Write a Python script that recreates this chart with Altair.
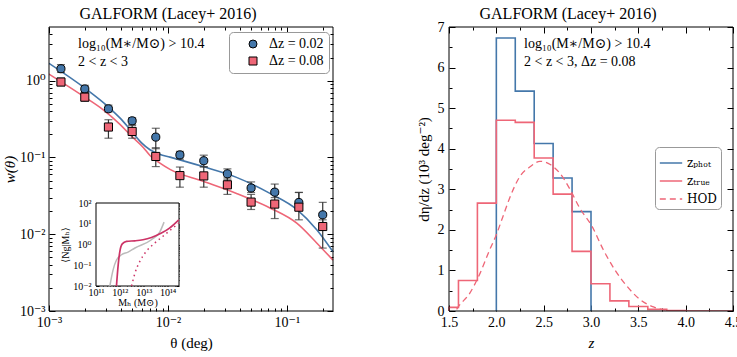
import math

import altair as alt
import pandas as pd

FONT = "Liberation Serif, DejaVu Serif, serif"
SUBFONT = "DejaVu Serif, Liberation Serif, serif"
BLUE = "#4477AA"
PINK = "#EE6677"
HOD_PINK = "#CC3366"
GREY = "#BBBBBB"
INK = "#333333"

# two square panels side by side in one view
PW = 284            # panel width and height
GAP = 116           # gap between panels
VW = 2 * PW + GAP   # view width
VH = PW
RX0 = PW + GAP      # left edge of the right panel

# ---------------- w(theta), log10(M*/Msun) > 10.4, 2 < z < 3 ----------------
theta_deg = [0.00126, 0.002, 0.00316, 0.005, 0.0079, 0.0126,
             0.02, 0.0316, 0.05, 0.079, 0.126, 0.2]
w_dz002 = [1.43, 0.78, 0.43, 0.30, 0.184, 0.108, 0.0906, 0.0612, 0.040, 0.0353, 0.0259, 0.0179]
w_dz002_lo = [1.28, 0.70, 0.39, 0.27, 0.13, 0.095, 0.076, 0.051, 0.035, 0.030, 0.021, 0.012]
w_dz002_hi = [1.62, 0.87, 0.48, 0.33, 0.24, 0.12, 0.107, 0.071, 0.048, 0.045, 0.035, 0.026]
w_dz008 = [0.96, 0.61, 0.249, 0.218, 0.103, 0.058, 0.0575, 0.044, 0.0262, 0.0247, 0.0225, 0.0126]
w_dz008_lo = [0.86, 0.54, 0.178, 0.178, 0.076, 0.041, 0.041, 0.033, 0.021, 0.016, 0.0154, 0.0066]
w_dz008_hi = [1.08, 0.70, 0.31, 0.26, 0.134, 0.075, 0.075, 0.054, 0.033, 0.033, 0.035, 0.0154]
series_labels = ["Δz = 0.02", "Δz = 0.08"]

# HOD model curves
model_theta_dz002 = [0.001, 0.002, 0.00313, 0.0040, 0.00496, 0.006, 0.00706, 0.0085,
                     0.0104, 0.0197, 0.0377, 0.072, 0.121, 0.178, 0.244]
model_w_dz002 = [1.68, 0.80, 0.46, 0.32, 0.218, 0.155, 0.126, 0.11,
                 0.101, 0.076, 0.055, 0.034, 0.021, 0.0114, 0.0059]
model_theta_dz008 = [0.001, 0.002, 0.00284, 0.00395, 0.00496, 0.0062, 0.00706, 0.0085,
                     0.0104, 0.0197, 0.0377, 0.072, 0.121, 0.178, 0.244]
model_w_dz008 = [1.22, 0.61, 0.42, 0.27, 0.188, 0.135, 0.106, 0.085,
                 0.070, 0.049, 0.034, 0.022, 0.0139, 0.0077, 0.0046]

# inset: mean occupation <N_g | M_h>
mh_model = [3.8e11, 5.2e11, 7.2e11, 1.17e12, 2.2e12, 4.3e12, 2.1e13, 4.7e13, 7.1e13]
ng_model = [0.01, 0.06, 0.18, 0.32, 0.43, 0.68, 1.7, 4.0, 12.0]
mh_hod = [7.2e11, 8.5e11, 1.0e12, 1.26e12, 1.9e12, 4.3e12, 9.3e12, 2.1e13, 5.5e13, 1.2e14, 2.95e14]
ng_hod = [0.01, 0.105, 0.47, 1.07, 1.41, 1.51, 1.70, 2.19, 3.55, 6.2, 15.5]
mh_hod_sat = [3.1e12, 4.3e12, 6.8e12, 1.29e13, 2.9e13, 7.6e13, 2.95e14]
ng_hod_sat = [0.01, 0.042, 0.15, 0.47, 1.17, 2.95, 10.7]

# ---------------- dn/dz ----------------
zphot_edges = [2.0, 2.2, 2.4, 2.6, 2.8, 3.0]
zphot_dndz = [6.73, 5.42, 4.13, 3.28, 2.45]
ztrue_edges = [1.5, 1.6, 1.8, 2.0, 2.2, 2.4, 2.6, 2.8, 3.0, 3.2, 3.4, 3.6, 3.8, 4.0, 4.5]
ztrue_dndz = [0.09, 0.75, 2.66, 4.70, 4.65, 3.77, 2.88, 1.47, 0.67, 0.25, 0.11, 0.04, 0.01, 0.0]
z_hod = [1.58, 1.60, 1.72, 1.83, 1.93, 2.0, 2.07, 2.14, 2.25, 2.36, 2.46, 2.57, 2.67,
         2.78, 2.88, 3.01, 3.13, 3.25, 3.38, 3.52, 3.66, 3.84]
dndz_hod = [0.04, 0.11, 0.44, 0.94, 1.51, 1.88, 2.33, 2.78, 3.32, 3.56, 3.69, 3.61, 3.40,
            2.99, 2.54, 2.09, 1.51, 1.02, 0.61, 0.28, 0.10, 0.0]
src_labels = ["zₚₕₒₜ", "zₜᵣᵤₑ", "HOD"]

# axis tick values
theta_major = [1e-3, 1e-2, 1e-1]
w_major = [1e-3, 1e-2, 1e-1, 1.0]
mh_major = [1e11, 1e12, 1e13, 1e14]
ng_major = [1e-2, 1e-1, 1.0, 1e1, 1e2]
z_major = [1.5, 2.0, 2.5, 3.0, 3.5, 4.0, 4.5]
z_minor = [1.75, 2.25, 2.75, 3.25, 3.75, 4.25]
dndz_major = [0, 1, 2, 3, 4, 5, 6, 7]
dndz_minor = [0.5, 1.5, 2.5, 3.5, 4.5, 5.5, 6.5]

THETA_DOM = [1e-3, 0.244]
W_DOM = [1e-3, 5.0]
MH_DOM = [1e11, 3e14]
NG_DOM = [1e-2, 1e2]
Z_DOM = [1.5, 4.5]
N_DOM = [0, 7]


def log_minor(lo, hi):
    out = []
    dec = 10.0 ** math.floor(math.log10(lo))
    while dec < hi:
        for m in range(2, 10):
            v = m * dec
            if lo < v < hi:
                out.append(v)
        dec *= 10
    return out


SUP = str.maketrans("-0123456789", "⁻⁰¹²³⁴⁵⁶⁷⁸⁹")


def pow10_expr(values):
    expr = "''"
    for v in values:
        k = round(math.log10(v))
        expr = f"round(log(datum.value) / LN10) == {k} ? '10{str(k).translate(SUP)}' : " + expr
    return expr


def axis(orient, values, length, inset=0, labels=False, **kw):
    """Inward ticks: the axis line sits `length` px inside the panel edge."""
    return alt.Axis(orient=orient, values=values, tickSize=length, offset=-(inset + length),
                    labels=labels, domain=False, grid=False, tickColor="black",
                    tickWidth=1, **kw)


def frame_layer(xdom, ydom, xsc, ysc):
    box = pd.DataFrame({"x0": [xdom[0]], "x1": [xdom[1]], "y0": [ydom[0]], "y1": [ydom[1]]})
    return alt.Chart(box).mark_rect(filled=False, color="black", strokeWidth=1).encode(
        x=alt.X("x0:Q", scale=xsc, axis=None), x2="x1:Q",
        y=alt.Y("y0:Q", scale=ysc, axis=None), y2="y1:Q",
    )


def text_layer(lines, x, y, size=14, align="left", baseline="top"):
    return alt.Chart(pd.DataFrame({"k": [0]})).mark_text(
        align=align, baseline=baseline, font=FONT, fontSize=size, lineHeight=18, color="black"
    ).encode(x=alt.value(x), y=alt.value(y), text=alt.value(lines))


# ---------------- left panel ----------------
pts = pd.DataFrame({
    "theta": theta_deg * 2,
    "w": w_dz002 + w_dz008,
    "lo": w_dz002_lo + w_dz008_lo,
    "hi": w_dz002_hi + w_dz008_hi,
    "series": [series_labels[0]] * len(theta_deg) + [series_labels[1]] * len(theta_deg),
})
pts["k"] = range(len(pts))
caps = pts.melt(id_vars=["theta", "series"], value_vars=["lo", "hi"], value_name="wcap")
model_a = pd.DataFrame({"theta": model_theta_dz002, "w": model_w_dz002})
model_b = pd.DataFrame({"theta": model_theta_dz008, "w": model_w_dz008})

xs = alt.Scale(type="log", domain=THETA_DOM, nice=False, range=[0, PW])
ys = alt.Scale(type="log", domain=W_DOM, nice=False, range=[VH, 0])
theta_minor = log_minor(*THETA_DOM)
w_minor = log_minor(*W_DOM)

line_a = alt.Chart(model_a).mark_line(clip=True, strokeWidth=1.6, interpolate="monotone", color=BLUE).encode(
    x=alt.X("theta:Q", scale=xs,
            axis=axis("bottom", theta_major, 6, labels=True, labelExpr=pow10_expr(theta_major),
                      labelPadding=4, title="θ (deg)", titlePadding=6)),
    y=alt.Y("w:Q", scale=ys,
            axis=axis("left", w_major, 6, labels=True, labelExpr=pow10_expr(w_major),
                      labelPadding=4, title="w(θ)", titleFontStyle="italic", titlePadding=2)),
)
line_b = alt.Chart(model_b).mark_line(clip=True, strokeWidth=1.6, interpolate="monotone", color=PINK).encode(
    x=alt.X("theta:Q", scale=xs, axis=None),
    y=alt.Y("w:Q", scale=ys, axis=None),
)

bars = alt.Chart(pts).mark_rule(clip=True, color=INK, strokeWidth=1.2).encode(
    x=alt.X("theta:Q", scale=xs, axis=axis("bottom", theta_minor, 3, title=None)),
    y=alt.Y("lo:Q", scale=ys, axis=axis("left", w_minor, 3, title=None)),
    y2="hi:Q",
)

capmarks = alt.Chart(caps).mark_tick(clip=True, orient="horizontal", color=INK, size=8, thickness=1.2).encode(
    x=alt.X("theta:Q", scale=xs, axis=axis("top", theta_major, 6, title=None)),
    y=alt.Y("wcap:Q", scale=ys, axis=axis("right", w_major, 6, inset=VW - PW, title=None)),
)

legend_left = alt.Legend(title=None, orient="none", legendX=180, legendY=5, labelFont=FONT,
                         labelFontSize=14, labelColor="black", symbolSize=64, strokeColor="#999999",
                         fillColor="white", cornerRadius=4, padding=5, rowPadding=3,
                         symbolOffset=12, labelOffset=9,
                         symbolStrokeColor="black", symbolStrokeWidth=1)
markers = alt.Chart(pts).mark_point(clip=True, filled=True, size=66, stroke="black",
                                    strokeWidth=1, opacity=1).encode(
    x=alt.X("theta:Q", scale=xs, axis=axis("top", theta_minor, 3, title=None)),
    y=alt.Y("w:Q", scale=ys, axis=axis("right", w_minor, 3, inset=VW - PW, title=None)),
    color=alt.Color("series:N", scale=alt.Scale(domain=series_labels, range=[BLUE, PINK]), legend=legend_left),
    shape=alt.Shape("series:N", scale=alt.Scale(domain=series_labels, range=["circle", "square"]),
                    legend=legend_left),
    order=alt.Order("k:Q"),
)

left = alt.layer(line_a, line_b, bars, capmarks, markers, frame_layer(THETA_DOM, W_DOM, xs, ys)).resolve_axis(
    x="independent", y="independent")

# ---------------- inset ----------------
IX0, IX1 = 47, 130
IY0, IY1 = 259, 176
mxs = alt.Scale(type="log", domain=MH_DOM, nice=False, range=[IX0, IX1])
mys = alt.Scale(type="log", domain=NG_DOM, nice=False, range=[IY0, IY1])
mh_minor = log_minor(*MH_DOM)
ng_minor = log_minor(*NG_DOM)
small = dict(labelFontSize=10, titleFontSize=10)

inset_box = pd.DataFrame({"m0": [MH_DOM[0]], "m1": [MH_DOM[1]], "n0": [NG_DOM[0]], "n1": [NG_DOM[1]]})
inset_frame = alt.Chart(inset_box).mark_rect(fill="white", stroke="black", strokeWidth=1).encode(
    x=alt.X("m0:Q", scale=mxs,
            axis=axis("bottom", mh_major, 3, inset=VH - IY0, labels=True, labelExpr=pow10_expr(mh_major),
                      labelPadding=1, title="Mₕ (M⊙)", titlePadding=0, **small)),
    x2="m1:Q",
    y=alt.Y("n0:Q", scale=mys,
            axis=axis("left", ng_major, 3, inset=IX0, labels=True, labelExpr=pow10_expr(ng_major),
                      labelPadding=5, title="⟨Ng|Mₕ⟩", titlePadding=2, **small)),
    y2="n1:Q",
)
inset_model = alt.Chart(pd.DataFrame({"mh": mh_model, "ng": ng_model})).mark_line(
    color=GREY, strokeWidth=1.5, interpolate="monotone").encode(
    x=alt.X("mh:Q", scale=mxs, axis=axis("top", mh_major, 3, inset=IY1, title=None)),
    y=alt.Y("ng:Q", scale=mys, axis=axis("right", ng_major, 3, inset=VW - IX1, title=None)),
)
inset_hod = alt.Chart(pd.DataFrame({"mh": mh_hod, "ng": ng_hod})).mark_line(
    color=HOD_PINK, strokeWidth=1.7, interpolate="monotone").encode(
    x=alt.X("mh:Q", scale=mxs, axis=axis("bottom", mh_minor, 1.5, inset=VH - IY0, title=None)),
    y=alt.Y("ng:Q", scale=mys, axis=axis("left", ng_minor, 1.5, inset=IX0, title=None)),
)
inset_sat = alt.Chart(pd.DataFrame({"mh": mh_hod_sat, "ng": ng_hod_sat})).mark_line(
    color=HOD_PINK, strokeWidth=1.5, strokeDash=[1.5, 3.5], interpolate="monotone").encode(
    x=alt.X("mh:Q", scale=mxs, axis=axis("top", mh_minor, 1.5, inset=IY1, title=None)),
    y=alt.Y("ng:Q", scale=mys, axis=axis("right", ng_minor, 1.5, inset=VW - IX1, title=None)),
)
inset = alt.layer(inset_frame, inset_model, inset_hod, inset_sat).resolve_axis(
    x="independent", y="independent")

# ---------------- right panel ----------------
def steps(edges, heights, label):
    zx, ny = [edges[0]], [0.0]
    for e, h in zip(edges[:-1], heights):
        zx.append(e)
        ny.append(h)
    zx += [edges[-1], edges[-1]]
    ny += [heights[-1], 0.0]
    return pd.DataFrame({"z": zx, "n": ny, "src": label, "i": range(len(zx))})


phot = steps(zphot_edges, zphot_dndz, src_labels[0])
true = steps(ztrue_edges, ztrue_dndz, src_labels[1])
hod = pd.DataFrame({"z": z_hod, "n": dndz_hod, "src": src_labels[2]})

zs = alt.Scale(domain=Z_DOM, nice=False, zero=False, range=[RX0, VW])
ns = alt.Scale(domain=N_DOM, nice=False, range=[VH, 0])

legend_right = alt.Legend(title=None, orient="none", legendX=RX0 + 206, legendY=120, labelFont=SUBFONT,
                          labelFontSize=12, labelColor="black", symbolSize=500, symbolStrokeWidth=1.5,
                          strokeColor="#999999", fillColor="white", cornerRadius=4, padding=4,
                          rowPadding=0, symbolType="stroke")
col = alt.Color("src:N", scale=alt.Scale(domain=src_labels, range=[BLUE, PINK, PINK]), legend=legend_right)
dash = alt.StrokeDash("src:N", scale=alt.Scale(domain=src_labels, range=[[1, 0], [1, 0], [6, 4]]),
                      legend=legend_right)

h_phot = alt.Chart(phot).mark_line(clip=True, interpolate="step-after", strokeWidth=1.6).encode(
    x=alt.X("z:Q", scale=zs, axis=axis("bottom", z_major, 6, labels=True, format=".1f",
                                         labelPadding=4, title="z", titleFontStyle="italic", titlePadding=6)),
    y=alt.Y("n:Q", scale=ns, axis=axis("left", dndz_major, 6, inset=RX0, labels=True, format="d",
                                         labelPadding=5, title="dη/dz (10³ deg⁻²)", titlePadding=6)),
    color=col, strokeDash=dash, order=alt.Order("i:Q"),
)
h_true = alt.Chart(true).mark_line(clip=True, interpolate="step-after", strokeWidth=1.6).encode(
    x=alt.X("z:Q", scale=zs, axis=axis("bottom", z_minor, 3, title=None)),
    y=alt.Y("n:Q", scale=ns, axis=axis("left", dndz_minor, 3, inset=RX0, title=None)),
    color=col, strokeDash=dash, order=alt.Order("i:Q"),
)
h_hod = alt.Chart(hod).mark_line(clip=True, interpolate="monotone", strokeWidth=1.3).encode(
    x=alt.X("z:Q", scale=zs, axis=axis("top", z_major, 6, title=None)),
    y=alt.Y("n:Q", scale=ns, axis=axis("right", dndz_major, 6, title=None)),
    color=col, strokeDash=dash,
)
# invisible copy of the z_phot points that carries the top/right minor ticks
tick_carrier = alt.Chart(phot).mark_point(opacity=0, size=1).encode(
    x=alt.X("z:Q", scale=zs, axis=axis("top", z_minor, 3, title=None)),
    y=alt.Y("n:Q", scale=ns, axis=axis("right", dndz_minor, 3, title=None)),
)
right = alt.layer(h_phot, h_true, h_hod, tick_carrier, frame_layer(Z_DOM, N_DOM, zs, ns)).resolve_axis(
    x="independent", y="independent")

# ---------------- titles and annotations ----------------
TITLE = "GALFORM (Lacey+ 2016)"
TITLE_SHIFT = 23
texts = [
    text_layer(TITLE, PW / 2 - TITLE_SHIFT, -8, size=16, align="center", baseline="alphabetic"),
    text_layer(TITLE, RX0 + PW / 2 - TITLE_SHIFT, -8, size=16, align="center", baseline="alphabetic"),
    text_layer(["log₁₀(M∗/M⊙) > 10.4", "2 < z < 3"], 29, 10),
    text_layer(["log₁₀(M∗/M⊙) > 10.4", "2 < z < 3, Δz = 0.08"], RX0 + 75, 10),
]

chart = alt.layer(left, inset, right, *texts).resolve_scale(
    x="independent", y="independent", color="independent", shape="independent",
    strokeDash="independent",
).resolve_legend(color="independent", shape="independent", strokeDash="independent").properties(
    width=VW, height=VH,
    autosize=alt.AutoSizeParams(type="none"),
    padding={"left": 49, "top": 27, "right": 4, "bottom": 46},
    background="white",
).configure_view(stroke=None).configure_axis(
    labelFont=FONT, titleFont=FONT, labelFontSize=14, titleFontSize=15, labelColor="black",
    titleColor="black", titleFontWeight="normal", labelFlush=False, labelOverlap=False,
)

chart.save("out.html", embed_options={"renderer": "svg", "actions": False})
